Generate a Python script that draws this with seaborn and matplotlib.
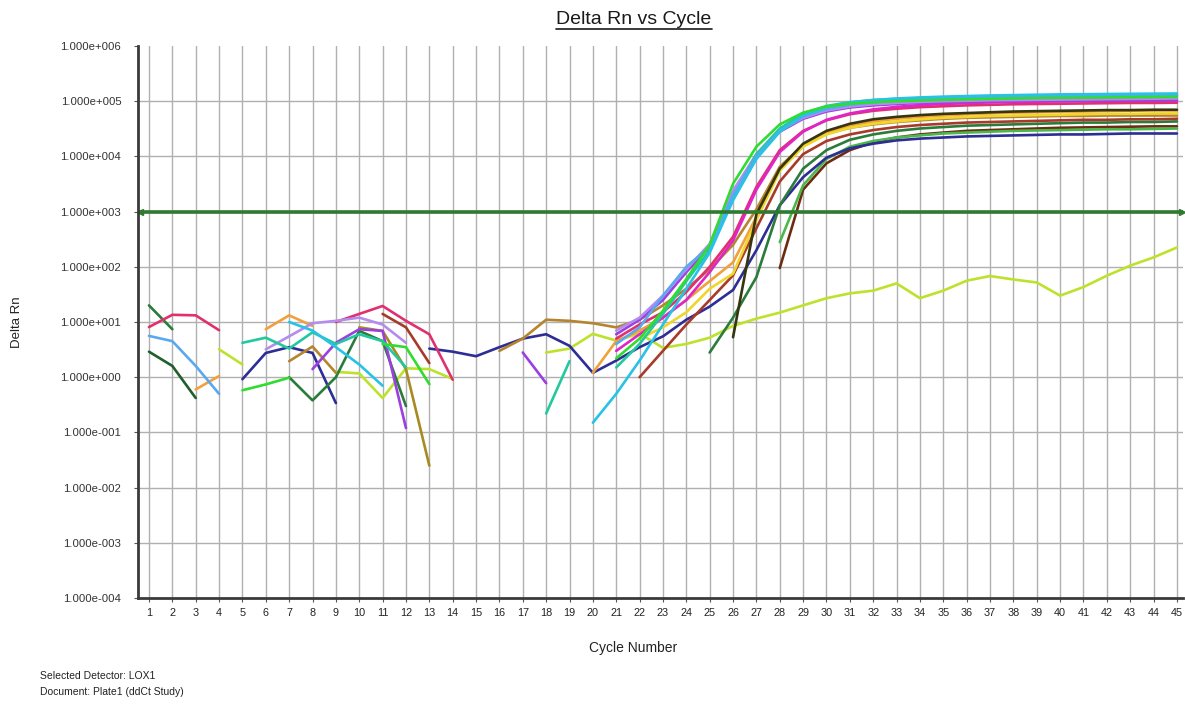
import numpy as np
import pandas as pd
import matplotlib
matplotlib.use("Agg")
import matplotlib.pyplot as plt
import seaborn as sns
from matplotlib.lines import Line2D
from matplotlib.ticker import FixedLocator, FuncFormatter, NullLocator

N = None
cycles = list(range(1, 46))

# ---- Delta Rn values per well (None = not plotted / below zero) ----
green = [N, N, N, N, 0.58, 0.74, 0.98, N, N,
         N, 4.0, 3.5, 0.75, N, N, N, N, N,
         N, N, 2.2, 5.0, 16, 60, 250, 3.2e3, 1.5e4,
         3.8e4, 6.2e4, 8.0e4, 9.0e4, 9.6e4, 1.0e5, 1.03e5, 1.06e5, 1.08e5,
         1.10e5, 1.12e5, 1.14e5, 1.15e5, 1.16e5, 1.17e5, 1.18e5, 1.19e5, 1.20e5]
lavender = [N, N, N, N, N, 3.2, 5.5, 9.5, 10.5,
            12, 9.0, 4.2, N, N, N, N, N, N,
            N, N, 7.0, 12, 30, 90, 260, 2.4e3, 1.1e4,
            2.9e4, 5.0e4, 6.8e4, 8.0e4, 8.8e4, 9.3e4, 9.7e4, 1.0e5, 1.02e5,
            1.04e5, 1.05e5, 1.06e5, 1.07e5, 1.08e5, 1.09e5, 1.10e5, 1.11e5, 1.12e5]
cyan = [N, N, N, N, N, N, 10, 7.0, 3.5,
        1.7, 0.7, N, N, N, N, N, N, N,
        N, 0.15, 0.5, 2.0, 9.0, 40, 180, 1.6e3, 9.0e3,
        2.8e4, 5.5e4, 7.8e4, 9.5e4, 1.05e5, 1.12e5, 1.17e5, 1.21e5, 1.24e5,
        1.27e5, 1.29e5, 1.31e5, 1.33e5, 1.34e5, 1.35e5, 1.36e5, 1.37e5, 1.38e5]
light_blue = [5.6, 4.5, 1.6, 0.5, N, N, N, N, N,
              N, N, N, N, N, N, N, N, N,
              N, N, 4.0, 8.0, 30, 100, 230, 2.0e3, 1.0e4,
              2.9e4, 5.3e4, 7.2e4, 8.6e4, 9.5e4, 1.02e5, 1.07e5, 1.11e5, 1.14e5,
              1.17e5, 1.19e5, 1.21e5, 1.23e5, 1.24e5, 1.25e5, 1.26e5, 1.27e5, 1.28e5]
magenta = [N, N, N, N, N, N, N, N, N,
           N, N, N, N, N, N, N, N, N,
           N, N, 3.0, 6.0, 12, 25, 80, 3.0e2, 2.5e3,
           1.2e4, 2.8e4, 4.6e4, 6.0e4, 7.1e4, 7.9e4, 8.5e4, 8.9e4, 9.2e4,
           9.5e4, 9.7e4, 9.8e4, 9.9e4, 1.0e5, 1.01e5, 1.02e5, 1.02e5, 1.03e5]
crimson = [8.1, 13.5, 13.2, 7.1, N, N, N, N, 10,
           14, 19.5, 10.5, 6.0, 0.9, N, N, N, N,
           N, N, 5.0, 9.0, 15, 35, 100, 3.5e2, 2.8e3,
           1.3e4, 2.9e4, 4.5e4, 5.8e4, 6.7e4, 7.3e4, 7.8e4, 8.1e4, 8.4e4,
           8.6e4, 8.8e4, 8.9e4, 9.0e4, 9.1e4, 9.2e4, 9.3e4, 9.3e4, 9.4e4]
teal = [N, N, N, N, 4.2, 5.2, 3.3, 6.5, 4.0,
        6.0, 4.5, 1.5, N, N, N, N, N, 0.22,
        1.95, N, 1.5, 4.0, 14, 55, 200, 1.8e3, 1.1e4,
        3.2e4, 6.0e4, 8.2e4, 9.6e4, 1.05e5, 1.10e5, 1.14e5, 1.17e5, 1.19e5,
        1.21e5, 1.22e5, 1.23e5, 1.24e5, 1.25e5, 1.26e5, 1.27e5, 1.28e5, 1.29e5]
yellow = [N, N, N, N, N, N, N, N, N,
          N, N, N, N, N, N, N, N, N,
          N, N, N, 5.0, 8.0, 15, 40, 75, 7.0e2,
          5.5e3, 1.5e4, 2.5e4, 3.3e4, 3.9e4, 4.3e4, 4.7e4, 5.0e4, 5.2e4,
          5.4e4, 5.5e4, 5.6e4, 5.7e4, 5.8e4, 5.9e4, 5.9e4, 6.0e4, 6.0e4]
orange = [N, N, 0.6, 1.05, N, 7.4, 13.2, 8.5, N,
          N, N, N, N, N, N, N, N, N,
          N, 1.2, 4.5, 7.0, 12, 25, 55, 1.2e2, 8.0e2,
          6.0e3, 1.6e4, 2.7e4, 3.6e4, 4.3e4, 4.8e4, 5.2e4, 5.5e4, 5.8e4,
          6.0e4, 6.2e4, 6.3e4, 6.4e4, 6.5e4, 6.6e4, 6.7e4, 6.8e4, 6.8e4]
black = [N, N, N, N, N, N, N, N, N,
         N, N, N, N, N, N, N, N, N,
         N, N, N, N, N, N, N, 5.3, 9.0e2,
         6.0e3, 1.7e4, 2.9e4, 3.9e4, 4.7e4, 5.2e4, 5.6e4, 5.9e4, 6.1e4,
         6.3e4, 6.5e4, 6.6e4, 6.7e4, 6.8e4, 6.9e4, 6.9e4, 7.0e4, 7.0e4]
red_brown = [N, N, N, N, N, N, N, N, N,
             N, 14, 8.0, 1.8, N, N, N, N, N,
             N, N, N, 1.0, 3.0, 9.0, 25, 70, 5.0e2,
             3.5e3, 1.1e4, 1.9e4, 2.5e4, 3.0e4, 3.4e4, 3.7e4, 3.9e4, 4.1e4,
             4.2e4, 4.3e4, 4.4e4, 4.5e4, 4.6e4, 4.6e4, 4.7e4, 4.7e4, 4.8e4]
dark_green = [20, 7.4, N, N, N, N, 1.0, 0.38, 1.0,
              6.9, 4.5, 0.3, N, N, N, N, N, N,
              N, N, N, N, N, N, 2.8, 12, 65,
              1.3e3, 6.0e3, 1.3e4, 2.0e4, 2.5e4, 2.9e4, 3.2e4, 3.4e4, 3.6e4,
              3.7e4, 3.8e4, 3.9e4, 4.0e4, 4.1e4, 4.1e4, 4.2e4, 4.2e4, 4.3e4]
navy = [N, N, N, N, 0.92, 2.75, 3.5, 2.75, 0.34,
        N, N, N, 3.3, 2.9, 2.4, 3.5, 5.0, 6.0,
        3.7, 1.2, 2.0, 3.5, 5.5, 11, 19, 38, 2.0e2,
        1.3e3, 4.2e3, 9.5e3, 1.4e4, 1.7e4, 1.95e4, 2.1e4, 2.2e4, 2.3e4,
        2.35e4, 2.4e4, 2.45e4, 2.5e4, 2.5e4, 2.55e4, 2.6e4, 2.6e4, 2.6e4]
mid_green = [N, N, N, N, N, N, N, N, N,
             N, N, N, N, N, N, N, N, N,
             N, N, N, N, N, N, N, N, N,
             2.8e2, 3.0e3, 9.0e3, 1.5e4, 1.9e4, 2.2e4, 2.4e4, 2.6e4, 2.7e4,
             2.8e4, 2.9e4, 2.95e4, 3.0e4, 3.05e4, 3.1e4, 3.1e4, 3.15e4, 3.2e4]
olive_gold = [N, N, N, N, N, N, N, N, N,
              8.0, 6.9, 1.4, 0.025, N, N, N, N, N,
              N, N, N, N, N, N, N, N, N,
              N, N, N, N, N, N, N, N, N,
              N, N, N, N, N, N, N, N, N]
lime = [N, N, N, 3.2, 1.7, N, N, N, 1.25,
        1.17, 0.42, 1.45, 1.4, 0.93, N, N, N, 2.8,
        3.3, 6.1, 4.6, 6.2, 3.4, 4.0, 5.2, 8.5, 11.5,
        14.8, 20, 27, 33, 37, 50, 27, 37, 56,
        68, 59, 52, 30, 43, 69, 105, 148, 224]
dark_green2 = [2.9, 1.6, 0.42, N, N, N, N, N, N,
               N, N, N, N, N, N, N, N, N,
               N, N, N, N, N, N, N, N, N,
               N, N, N, N, N, N, N, N, N,
               N, N, N, N, N, N, N, N, N]
gold_brown = [N, N, N, N, N, N, 1.95, 3.6, 1.2,
              N, N, N, N, N, N, 3.0, 5.0, 11,
              10.5, 9.5, 8.0, 11, 20, 40, 90, 2.5e2, 1.1e3,
              6.5e3, 1.6e4, 2.6e4, 3.3e4, 3.8e4, 4.2e4, 4.5e4, 4.8e4, 5.0e4,
              5.1e4, 5.2e4, 5.3e4, 5.4e4, 5.4e4, 5.5e4, 5.5e4, 5.5e4, 5.5e4]
violet = [N, N, N, N, N, N, N, 1.4, 4.2,
          7.4, 6.9, 0.12, N, N, N, N, 2.8, 0.78,
          N, N, 6.0, 11, 25, 80, 2.3e2, 2.2e3, 1.05e4,
          2.8e4, 4.8e4, 6.5e4, 7.7e4, 8.4e4, 8.9e4, 9.3e4, 9.6e4, 9.8e4,
          1.0e5, 1.01e5, 1.02e5, 1.03e5, 1.03e5, 1.04e5, 1.04e5, 1.05e5, 1.05e5]
brown = [N, N, N, N, N, N, N, N, N,
         N, N, N, N, N, N, N, N, N,
         N, N, N, N, N, N, N, N, N,
         95, 2.5e3, 7.5e3, 1.3e4, 1.8e4, 2.2e4, 2.5e4, 2.7e4, 2.9e4,
         3.0e4, 3.1e4, 3.2e4, 3.3e4, 3.35e4, 3.4e4, 3.45e4, 3.5e4, 3.5e4]

threshold = 1.0e3
decades = [1e-4, 1e-3, 1e-2, 1e-1, 1e0, 1e1, 1e2, 1e3, 1e4, 1e5, 1e6]

wells = {
    "lime": (lime, "#bde22c"),
    "dark_green2": (dark_green2, "#1f5f2c"),
    "olive_gold": (olive_gold, "#a88a22"),
    "brown": (brown, "#6b2c12"),
    "mid_green": (mid_green, "#4cb84c"),
    "navy": (navy, "#2d2d96"),
    "dark_green": (dark_green, "#2b7b3b"),
    "red_brown": (red_brown, "#a83a2a"),
    "gold_brown": (gold_brown, "#b5842e"),
    "orange": (orange, "#f2a03c"),
    "yellow": (yellow, "#f0d62a"),
    "black": (black, "#35350f"),
    "crimson": (crimson, "#e0306e"),
    "magenta": (magenta, "#e024c8"),
    "violet": (violet, "#9b3fe0"),
    "lavender": (lavender, "#b48cf0"),
    "teal": (teal, "#22c8a0"),
    "light_blue": (light_blue, "#5aa8f0"),
    "cyan": (cyan, "#27c3e6"),
    "green": (green, "#2fdc2f"),
}

rows = []
seg = 0
for name, (vals, col) in wells.items():
    prev = False
    for c, v in zip(cycles, vals):
        if v is None:
            prev = False
            continue
        if not prev:
            seg += 1
        rows.append({"cycle": c, "rn": v, "well": name, "seg": seg})
        prev = True
df = pd.DataFrame(rows)
palette = {k: v[1] for k, v in wells.items()}

sns.set_theme(style="white")
plt.rcParams["font.family"] = ["Liberation Sans", "DejaVu Sans"]

W, H = 1185, 704
fig = plt.figure(figsize=(W / 100, H / 100), dpi=100)
fig.patch.set_facecolor("white")
ax = fig.add_axes([138 / W, 1 - 598 / H, (1183 - 138) / W, (598 - 46) / H])
ax.set_yscale("log")
ax.set_xlim(0.53, 45.26)
ax.set_ylim(1e-4, 1e6)

# grid
for c in cycles:
    ax.axvline(c, color="#b0b0b0", lw=1.0, zorder=0)
for d in decades[1:-1]:
    ax.axhline(d, color="#b0b0b0", lw=1.0, zorder=0)

sns.lineplot(data=df, x="cycle", y="rn", hue="well", units="seg",
             estimator=None, palette=palette, hue_order=list(wells.keys()),
             lw=1.9, legend=False, ax=ax, sort=True)

# threshold
thr_col = "#2f7a30"
ax.axhline(threshold, color=thr_col, lw=2.6, zorder=10)
ax.plot([0.6], [threshold], marker="<", ms=5, color=thr_col, clip_on=False, zorder=11)
ax.plot([45.2], [threshold], marker=">", ms=5, color=thr_col, clip_on=False, zorder=11)

ax.xaxis.set_major_locator(FixedLocator(cycles))
ax.yaxis.set_major_locator(FixedLocator(decades))
ax.yaxis.set_minor_locator(NullLocator())
ax.yaxis.set_major_formatter(FuncFormatter(
    lambda v, p: "1.000e%+04d" % int(round(np.log10(v)))))
ax.tick_params(axis="x", which="major", direction="out", length=3, width=0.8,
               color="#555555", labelsize=7.8, labelcolor="#222222", pad=4,
               bottom=True)
ax.tick_params(axis="y", which="major", direction="out", length=3, width=0.8,
               color="#555555", labelsize=8.2, labelcolor="#333333", pad=9,
               left=True)
ax.set_xlabel("")
ax.set_ylabel("")
for s in ["top", "right"]:
    ax.spines[s].set_visible(False)
for s in ["left", "bottom"]:
    ax.spines[s].set_color("#3a3a3a")
    ax.spines[s].set_linewidth(2.0)
    ax.spines[s].set_zorder(12)

fig.text(17 / W, 1 - 322 / H, "Delta Rn", rotation=90, ha="center", va="center",
         fontsize=9.5, color="#222222")
fig.text(633 / W, 1 - 648 / H, "Cycle Number", ha="center", va="center",
         fontsize=10, color="#222222")
title = fig.text(634 / W, 1 - 19 / H, "Delta Rn vs Cycle", ha="center", va="center",
                 fontsize=14, color="#1a1a1a")
fig.text(40 / W, 1 - 676 / H, "Selected Detector: LOX1", ha="left", va="center",
         fontsize=7.5, color="#222222")
fig.text(40 / W, 1 - 692 / H, "Document: Plate1 (ddCt Study)", ha="left", va="center",
         fontsize=7.5, color="#222222")

# underline the title
fig.canvas.draw()
bb = title.get_window_extent(renderer=fig.canvas.get_renderer())
uy = (bb.y0 - 1.5) / fig.bbox.height
fig.add_artist(Line2D([bb.x0 / fig.bbox.width, bb.x1 / fig.bbox.width], [uy, uy],
                      transform=fig.transFigure, color="#1a1a1a", lw=1.2))

fig.savefig("out.png", dpi=100, facecolor="white")
